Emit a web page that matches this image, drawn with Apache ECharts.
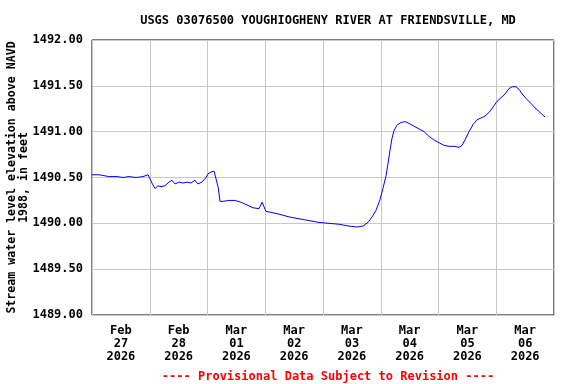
<!DOCTYPE html>
<html><head><meta charset="utf-8">
<script src="https://cdn.jsdelivr.net/npm/echarts@6/dist/echarts.min.js"></script>
<style>html,body{margin:0;padding:0;background:#fff}#c{width:576px;height:384px}</style>
</head><body><div id="c"></div>
<script>
const title = "USGS 03076500 YOUGHIOGHENY RIVER AT FRIENDSVILLE, MD";
const footer = "---- Provisional Data Subject to Revision ----";
const yAxisName = "Stream water level elevation above NAVD\n1988, in feet";
const dayLabels = ["Feb\n27\n2026","Feb\n28\n2026","Mar\n01\n2026","Mar\n02\n2026","Mar\n03\n2026","Mar\n04\n2026","Mar\n05\n2026","Mar\n06\n2026"];
// hours since 2026-02-27 00:00
const hours = [0,2.9,5,7,10.4,12.9,15.4,18.3,21.2,23.3,24.1,24.9,26.2,27.4,28.7,30.3,32,33.2,34.5,36.2,37.8,39.5,41.1,42.8,44,45.7,47.4,48.2,49.5,50.7,51.5,52.4,53.2,54.4,56.9,59.4,61.9,64.4,66.9,69.4,70.2,70.7,71.5,72.3,74.4,77.7,81.9,86,90.2,94.3,98.5,102.7,106.8,110.1,112.6,114.7,116.4,118,119.7,120.9,122.2,123,123.8,124.7,125.5,126.7,128.4,130.1,131.7,133.8,135.9,138,140,142.1,144.2,146.3,148.4,150.5,152.5,153.8,155,156.7,158.4,160,161.7,163.3,165,166.7,168.3,170,171.6,173.3,174.6,176.2,177.5,179.1,180.8,182.4,184.1,185.8,187.4,188.3];
const elevation = [1490.53,1490.53,1490.52,1490.51,1490.51,1490.50,1490.51,1490.50,1490.51,1490.53,1490.51,1490.44,1490.38,1490.41,1490.40,1490.41,1490.45,1490.47,1490.43,1490.45,1490.44,1490.45,1490.44,1490.47,1490.43,1490.45,1490.50,1490.54,1490.56,1490.57,1490.56,1490.40,1490.24,1490.24,1490.25,1490.25,1490.23,1490.20,1490.17,1490.16,1490.15,1490.23,1490.18,1490.13,1490.12,1490.10,1490.07,1490.05,1490.03,1490.01,1490.00,1489.99,1489.97,1489.96,1489.97,1490.01,1490.07,1490.14,1490.26,1490.38,1490.52,1490.65,1490.79,1490.93,1491.01,1491.07,1491.10,1491.11,1491.09,1491.06,1491.03,1491.00,1490.95,1490.91,1490.88,1490.85,1490.84,1490.84,1490.83,1490.85,1490.91,1491.00,1491.08,1491.13,1491.15,1491.17,1491.21,1491.27,1491.33,1491.37,1491.41,1491.47,1491.49,1491.49,1491.46,1491.40,1491.35,1491.31,1491.26,1491.22,1491.18,1491.16];

const font = "DejaVu Sans Mono";
const chart = echarts.init(document.getElementById('c'), null, {renderer:'canvas'});
chart.setOption({
  animation:false,
  backgroundColor:'#fff',
  title:[
    {text:title,left:323,top:10,textAlign:'center',textStyle:{fontFamily:font,fontSize:12,fontWeight:'bold',color:'#000'}},
    {text:footer,left:323,top:366,textAlign:'center',textStyle:{fontFamily:font,fontSize:12,fontWeight:'bold',color:'#ff0000'}}
  ],
  grid:{left:92,right:22,top:40,bottom:69,show:true,borderColor:'#000',borderWidth:1,containLabel:false,outerBoundsMode:'none'},
  xAxis:[
    {type:'value',min:0,max:192,interval:24,axisLabel:{show:false},axisTick:{show:false},axisLine:{show:false},
     splitLine:{show:true,lineStyle:{color:'#c8c8c8',width:1}}},
    {type:'category',data:dayLabels,boundaryGap:true,position:'bottom',axisTick:{show:false},axisLine:{show:false},splitLine:{show:false},
     axisLabel:{interval:0,margin:9,lineHeight:13,fontFamily:font,fontSize:12,fontWeight:'bold',color:'#000'}}
  ],
  yAxis:{type:'value',min:1489,max:1492,interval:0.5,
    name:yAxisName,nameLocation:'middle',nameGap:62,nameRotate:90,nameMoveOverlap:false,
    nameTextStyle:{fontFamily:font,fontSize:11.6,fontWeight:'bold',color:'#000',lineHeight:12},
    axisLine:{show:false},axisTick:{show:false},
    axisLabel:{margin:9,fontFamily:font,fontSize:12,fontWeight:'bold',color:'#000',formatter:v=>v.toFixed(2)},
    splitLine:{show:true,lineStyle:{color:'#c8c8c8',width:1}}},
  series:[{type:'line',xAxisIndex:0,data:hours.map((h,i)=>[h,elevation[i]]),showSymbol:false,
    lineStyle:{color:'#0000ff',width:1},itemStyle:{color:'#0000ff'}}]
});
</script></body></html>
